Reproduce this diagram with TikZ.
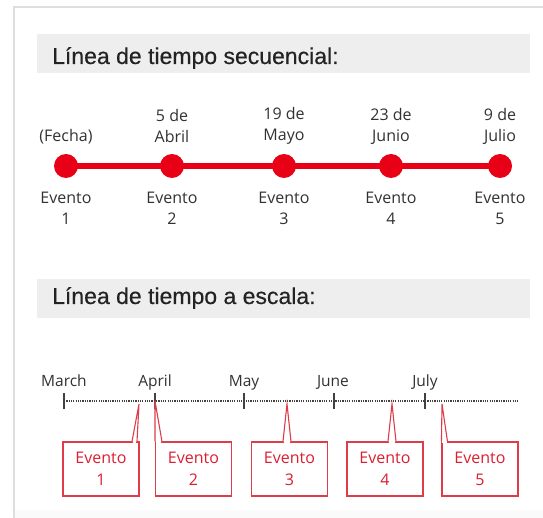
\documentclass[tikz,border=0pt]{standalone}
\usepackage{fontspec}
\setmainfont{Open Sans}
\newfontfamily\headfont[FakeBold=0.4]{Liberation Sans}
\definecolor{tred}{RGB}{232,0,22}
\definecolor{bred}{RGB}{222,60,75}
\definecolor{txtred}{RGB}{220,30,50}
\definecolor{framec}{RGB}{222,222,222}
\definecolor{barc}{RGB}{238,238,238}
\definecolor{headc}{RGB}{35,35,35}
\definecolor{txtc}{RGB}{50,50,50}
\definecolor{tickc}{RGB}{65,65,65}
\tikzset{
  headtxt/.style={font=\headfont\fontsize{23}{26}\selectfont, text=headc, anchor=base west, inner sep=0},
  dot/.style={circle, fill=tred, minimum size=24, inner sep=0},
  lbl/.style={font=\fontsize{16}{21}\selectfont, text=txtc, align=center, inner sep=0},
  month/.style={font=\fontsize{15.5}{18}\selectfont, text=txtc, inner sep=0, anchor=base},
  evbox/.style={draw=bred, line width=1.1, fill=white, minimum width=76, minimum height=54, inner sep=0,
     font=\fontsize{16}{22}\selectfont, text=txtred, align=center},
  ptr/.style={draw=bred, line width=1.1, fill=white},
  tickmark/.style={draw=tickc, line width=2.4},
}
\begin{document}
\begin{tikzpicture}[x=1pt,y=-1pt]
\useasboundingbox (0,0) rectangle (543,518);
\fill[white] (0,0) rectangle (543,518);
\fill[gray!4] (14,510) rectangle (543,518);
\draw[framec, line width=1.5] (14,518) -- (14,7) -- (543,7);
% header 1
\fill[barc] (37,34) rectangle (530,73);
\node[headtxt] (h1) at (52,64) {Línea de tiempo secuencial:};
% sequential timeline
\node[dot] (c1) at (66,166) {};
\node[dot] (c2) at (172,166) {};
\node[dot] (c3) at (284,166) {};
\node[dot] (c4) at (391,166) {};
\node[dot] (c5) at (500,166) {};
\draw[tred, line width=6.5] (c1.center) -- (c2.center) -- (c3.center) -- (c4.center) -- (c5.center);
\node[lbl] (d1) at (66,137) {(Fecha)};
\node[lbl] (d2) at (172,126) {5 de\\Abril};
\node[lbl] (d3) at (284,126) {19 de\\Mayo};
\node[lbl] (d4) at (391,126) {23 de\\Junio};
\node[lbl] (d5) at (500,126) {9 de\\Julio};
\node[lbl] (e1) at (66,208) {Evento\\1};
\node[lbl] (e2) at (172,208) {Evento\\2};
\node[lbl] (e3) at (284,208) {Evento\\3};
\node[lbl] (e4) at (391,208) {Evento\\4};
\node[lbl] (e5) at (500,208) {Evento\\5};
% header 2
\fill[barc] (37,279) rectangle (530,318);
\node[headtxt] (h2) at (52,304) {Línea de tiempo a escala:};
% scale timeline
\node[month] (m1) at (64,386) {March};
\node[month] (m2) at (155,386) {April};
\node[month] (m3) at (244,386) {May};
\node[month] (m4) at (333,386) {June};
\node[month] (m5) at (425,386) {July};
\coordinate (ls) at (64,401);
\coordinate (le) at (518,401);
\draw[tickc, line width=1.8, dash pattern=on 1.2pt off 1.1pt] (ls) -- (le);
\foreach \x/\n in {64/1,155/2,244/3,334/4,425/5}{
  \coordinate (ta\n) at (\x,393);
  \coordinate (tb\n) at (\x,409);
  \draw[tickmark] (ta\n) -- (tb\n);
}
% event boxes
\node[evbox] (b1) at (101,469) {Evento\\1};
\node[evbox] (b2) at (193.5,469) {Evento\\2};
\node[evbox] (b3) at (289.5,469) {Evento\\3};
\node[evbox] (b4) at (385,469) {Evento\\4};
\node[evbox] (b5) at (480,469) {Evento\\5};
\coordinate (p1) at (139,404);
\coordinate (p2) at (155,401);
\coordinate (p3) at (287,404);
\coordinate (p4) at (392,404);
\coordinate (p5) at (442,404);
\path[ptr] ([xshift=31]b1.north) -- (p1) -- ([xshift=36]b1.north);
\path[ptr] (b2.north west) -- (p2) -- ([xshift=7]b2.north west);
\path[ptr] ([xshift=-6.5]b3.north) -- (p3) -- ([xshift=1.5]b3.north);
\path[ptr] ([xshift=3]b4.north) -- (p4) -- ([xshift=11]b4.north);
\path[ptr] (b5.north west) -- (p5) -- ([xshift=6]b5.north west);
\fill[white] ([xshift=31.6,yshift=0.2]b1.north) rectangle ([xshift=35.4,yshift=-1.2]b1.north);
\fill[white] ([xshift=0.6,yshift=0.2]b2.north west) rectangle ([xshift=6.4,yshift=-1.2]b2.north west);
\fill[white] ([xshift=-5.9,yshift=0.2]b3.north) rectangle ([xshift=0.9,yshift=-1.2]b3.north);
\fill[white] ([xshift=3.6,yshift=0.2]b4.north) rectangle ([xshift=10.4,yshift=-1.2]b4.north);
\fill[white] ([xshift=0.6,yshift=0.2]b5.north west) rectangle ([xshift=5.4,yshift=-1.2]b5.north west);
\end{tikzpicture}
\end{document}
